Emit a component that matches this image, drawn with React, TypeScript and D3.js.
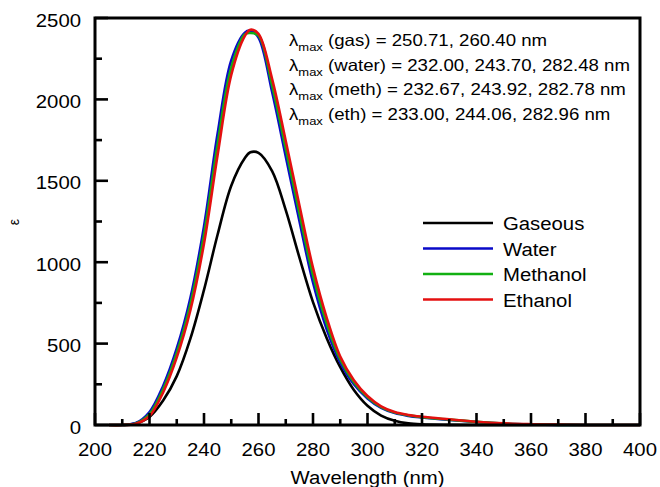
import * as d3 from "d3";

// wavelength grid (nm) shared by all series
const wavelength = [205, 210, 215, 220, 225, 230, 235, 240, 245, 250, 255, 257, 260, 265, 270, 275, 280, 285, 290, 295, 300, 305, 310, 315, 320, 330, 340, 350, 360, 370, 380, 390, 400];

const gaseous = [0, 0, 10, 50, 150, 300, 530, 830, 1170, 1470, 1640, 1675, 1672, 1560, 1320, 1030, 755, 535, 355, 215, 118, 58, 26, 10, 4, 1, 0, 0, 0, 0, 0, 0, 0];
const water = [0, 0, 12, 80, 240, 470, 780, 1220, 1790, 2240, 2410, 2422, 2380, 2045, 1650, 1255, 875, 590, 385, 250, 163, 105, 73, 56, 46, 31, 18, 8, 3, 1, 0, 0, 0];
const methanol = [0, 0, 10, 67, 220, 442, 742, 1168, 1725, 2195, 2400, 2408, 2392, 2085, 1698, 1302, 920, 625, 402, 262, 170, 110, 76, 59, 48, 33, 19, 9, 4, 1, 0, 0, 0];
const ethanol = [0, 0, 8, 55, 200, 415, 705, 1115, 1660, 2150, 2390, 2428, 2402, 2125, 1745, 1350, 965, 660, 420, 275, 178, 115, 80, 62, 51, 35, 20, 10, 5, 2, 0, 0, 0];

const seriesNames = ["Gaseous", "Water", "Methanol", "Ethanol"];
const seriesColors = ["#000000", "#0a0ac8", "#12b012", "#e41010"];

const xTickLabels = ["200", "220", "240", "260", "280", "300", "320", "340", "360", "380", "400"];
const yTickLabels = ["0", "500", "1000", "1500", "2000", "2500"];

const notes = [
  { tag: "gas", values: "250.71, 260.40 nm" },
  { tag: "water", values: "232.00, 243.70, 282.48 nm" },
  { tag: "meth", values: "232.67, 243.92, 282.78 nm" },
  { tag: "eth", values: "233.00, 244.06, 282.96 nm" },
];

const font = "'Liberation Sans', Arial, Helvetica, sans-serif";
// the original type is a bit wider than Arial, so stretch text horizontally
const SX = 1.13;

function Txt({ x, y, size, anchor, children }: { x: number; y: number; size: number; anchor?: string; children: any }) {
  return (
    <text transform={`translate(${x},${y}) scale(${SX},1)`} fontSize={size} textAnchor={anchor || "start"}>
      {children}
    </text>
  );
}

export default function App() {
  const width = 660;
  const height = 487;
  const left = 95, right = 640, top = 18, bottom = 425;

  const x = d3.scaleLinear().domain([200, 400]).range([left, right]);
  const y = d3.scaleLinear().domain([0, 2500]).range([bottom, top]);

  const line = d3
    .line<number>()
    .x((_, i) => x(wavelength[i]))
    .y((d) => Math.min(y(d), bottom))
    .curve(d3.curveCatmullRom.alpha(0.5));

  const allSeries = [gaseous, water, methanol, ethanol];

  const xMajor = xTickLabels.map(Number);
  const xMinor = d3.range(210, 400, 20);
  const yMajor = yTickLabels.map(Number);
  const yMinor = d3.range(250, 2500, 500);

  return (
    <svg
      width={width}
      height={height}
      style={{ position: "absolute", left: 0, top: 0, background: "#fff" }}
      fontFamily={font}
    >
      {/* curves */}
      <g fill="none" strokeWidth={2.6} strokeLinejoin="round">
        {allSeries.map((s, i) => (
          <path key={seriesNames[i]} d={line(s) || ""} stroke={seriesColors[i]} />
        ))}
      </g>

      {/* frame */}
      <rect x={left} y={top} width={right - left} height={bottom - top} fill="none" stroke="#000" strokeWidth={3} />

      {/* ticks, all pointing inward */}
      <g stroke="#000" strokeWidth={2.6}>
        {xMajor.map((t) => (
          <line key={"xM" + t} x1={x(t)} x2={x(t)} y1={bottom} y2={bottom - 12} />
        ))}
        {xMinor.map((t) => (
          <line key={"xm" + t} x1={x(t)} x2={x(t)} y1={bottom} y2={bottom - 6} />
        ))}
        {yMajor.map((t) => (
          <line key={"yM" + t} x1={left} x2={left + 13} y1={y(t)} y2={y(t)} />
        ))}
        {yMinor.map((t) => (
          <line key={"ym" + t} x1={left} x2={left + 7} y1={y(t)} y2={y(t)} />
        ))}
      </g>

      {/* tick labels */}
      <g fill="#000">
        {xTickLabels.map((l) => (
          <Txt key={"xl" + l} x={x(Number(l))} y={456} size={18} anchor="middle">
            {l}
          </Txt>
        ))}
        {yTickLabels.map((l) => (
          <Txt key={"yl" + l} x={81} y={y(Number(l)) + 8.5} size={18} anchor="end">
            {l}
          </Txt>
        ))}
      </g>

      {/* axis titles */}
      <Txt x={(left + right) / 2} y={484} size={18} anchor="middle">
        Wavelength (nm)
      </Txt>
      <text transform="translate(19,222) rotate(-90)" fontSize={14} textAnchor="middle">
        ε
      </text>

      {/* lambda max notes */}
      <g fill="#000">
        {notes.map((n, i) => (
          <Txt key={n.tag} x={289} y={46 + i * 24.5} size={16.5}>
            λ
            <tspan fontSize={11.5} dy={5}>max</tspan>
            <tspan dy={-5}>{` (${n.tag}) = ${n.values}`}</tspan>
          </Txt>
        ))}
      </g>

      {/* legend */}
      <g>
        {seriesNames.map((name, i) => (
          <g key={name} transform={`translate(0,${223 + i * 25.5})`}>
            <line x1={423} x2={493} y1={0} y2={0} stroke={seriesColors[i]} strokeWidth={2.6} />
            <Txt x={503} y={7} size={18}>
              {name}
            </Txt>
          </g>
        ))}
      </g>
    </svg>
  );
}
